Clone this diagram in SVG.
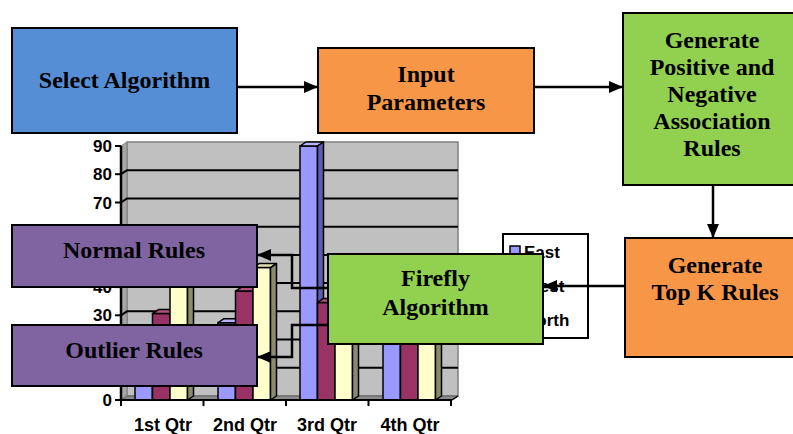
<svg xmlns="http://www.w3.org/2000/svg" width="793" height="434" viewBox="0 0 793 434">
  <defs>
    <style>
      .box { stroke: #000; stroke-width: 2; }
      .lbl { font-family: "Liberation Serif", "Times New Roman", serif; font-weight: bold; font-size: 24px; fill: #000; text-anchor: middle; }
      .ax { font-family: "Liberation Sans", Arial, sans-serif; font-weight: bold; fill: #000; }
      .grid { stroke: #000; stroke-width: 2; fill: none; }
      .bar { stroke: #000; stroke-width: 1.5; stroke-linejoin: round; }
      .east { fill: #9999FF; }
      .east-top { fill: #B3B3FF; }
      .east-side { fill: #5C5CB0; }
      .west { fill: #993366; }
      .west-top { fill: #B3507F; }
      .west-side { fill: #5E1F3F; }
      .north { fill: #FFFFCC; }
      .north-top { fill: #E2E2B4; }
      .north-side { fill: #8A8A6E; }
      .conn { stroke: #000; stroke-width: 2.5; fill: none; }
    </style>
    <marker id="arrow" viewBox="0 0 14 12" refX="14" refY="6" markerWidth="14" markerHeight="12" markerUnits="userSpaceOnUse" orient="auto">
      <path d="M0,0 L14,6 L0,12 z" fill="#000"/>
    </marker>
  </defs>

  <rect width="793" height="434" fill="#fff"/>

  <!-- 3D column chart backdrop -->
  <g id="chart">
    <polygon points="127,142 458,142 458,396 127,396" fill="#C0C0C0" stroke="#808080" stroke-width="1.5"/>
    <polygon points="121,146 127,142 127,396 121,400" fill="#A6A6A6" stroke="#808080" stroke-width="1"/>
    <polygon points="121,400 127,396 458,396 452,400" fill="#8C8C8C" stroke="#606060" stroke-width="1"/>
    <!-- gridlines -->
    <polyline class="grid" points="121,371.8 127,367.8 458,367.8"/>
    <polyline class="grid" points="121,343.6 127,339.6 458,339.6"/>
    <polyline class="grid" points="121,315.3 127,311.3 458,311.3"/>
    <polyline class="grid" points="121,287.1 127,283.1 458,283.1"/>
    <polyline class="grid" points="121,258.9 127,254.9 458,254.9"/>
    <polyline class="grid" points="121,230.7 127,226.7 458,226.7"/>
    <polyline class="grid" points="121,202.5 127,198.5 458,198.5"/>
    <polyline class="grid" points="121,174.2 127,170.2 458,170.2"/>

    <!-- 1st Qtr -->
    <g>
      <rect class="bar east" x="135" y="342.4" width="17.5" height="57.6"/>
      <polygon class="bar east-top" points="135,342.4 141,338.4 158.5,338.4 152.5,342.4"/>
      <polygon class="bar east-side" points="152.5,342.4 158.5,338.4 158.5,396 152.5,400"/>
      <rect class="bar west" x="152.5" y="313.6" width="17.5" height="86.4"/>
      <polygon class="bar west-top" points="152.5,313.6 158.5,309.6 176,309.6 170,313.6"/>
      <polygon class="bar west-side" points="170,313.6 176,309.6 176,396 170,400"/>
      <rect class="bar north" x="170" y="270.5" width="17.5" height="129.5"/>
      <polygon class="bar north-top" points="170,270.5 176,266.5 193.5,266.5 187.5,270.5"/>
      <polygon class="bar north-side" points="187.5,270.5 193.5,266.5 193.5,396 187.5,400"/>
    </g>
    <!-- 2nd Qtr -->
    <g>
      <rect class="bar east" x="218" y="322.7" width="17.5" height="77.3"/>
      <polygon class="bar east-top" points="218,322.7 224,318.7 241.5,318.7 235.5,322.7"/>
      <polygon class="bar east-side" points="235.5,322.7 241.5,318.7 241.5,396 235.5,400"/>
      <rect class="bar west" x="235.5" y="291.1" width="17.5" height="108.9"/>
      <polygon class="bar west-top" points="235.5,291.1 241.5,287.1 259,287.1 253,291.1"/>
      <polygon class="bar west-side" points="253,291.1 259,287.1 259,396 253,400"/>
      <rect class="bar north" x="253" y="267.6" width="17.5" height="132.4"/>
      <polygon class="bar north-top" points="253,267.6 259,263.6 276.5,263.6 270.5,267.6"/>
      <polygon class="bar north-side" points="270.5,267.6 276.5,263.6 276.5,396 270.5,400"/>
    </g>
    <!-- 3rd Qtr -->
    <g>
      <rect class="bar east" x="300" y="146" width="17.5" height="254"/>
      <polygon class="bar east-top" points="300,146 306,142 323.5,142 317.5,146"/>
      <polygon class="bar east-side" points="317.5,146 323.5,142 323.5,396 317.5,400"/>
      <rect class="bar west" x="317.5" y="302.4" width="17.5" height="97.6"/>
      <polygon class="bar west-top" points="317.5,302.4 323.5,298.4 341,298.4 335,302.4"/>
      <polygon class="bar west-side" points="335,302.4 341,298.4 341,396 335,400"/>
      <rect class="bar north" x="335" y="273" width="17.5" height="127"/>
      <polygon class="bar north-top" points="335,273 341,269 358.5,269 352.5,273"/>
      <polygon class="bar north-side" points="352.5,273 358.5,269 358.5,396 352.5,400"/>
    </g>
    <!-- 4th Qtr -->
    <g>
      <rect class="bar east" x="383" y="342.4" width="17.5" height="57.6"/>
      <polygon class="bar east-top" points="383,342.4 389,338.4 406.5,338.4 400.5,342.4"/>
      <polygon class="bar east-side" points="400.5,342.4 406.5,338.4 406.5,396 400.5,400"/>
      <rect class="bar west" x="400.5" y="310.8" width="17.5" height="89.2"/>
      <polygon class="bar west-top" points="400.5,310.8 406.5,306.8 424,306.8 418,310.8"/>
      <polygon class="bar west-side" points="418,310.8 424,306.8 424,396 418,400"/>
      <rect class="bar north" x="418" y="276.1" width="17.5" height="123.9"/>
      <polygon class="bar north-top" points="418,276.1 424,272.1 441.5,272.1 435.5,276.1"/>
      <polygon class="bar north-side" points="435.5,276.1 441.5,272.1 441.5,396 435.5,400"/>
    </g>

    <!-- axes -->
    <line x1="121" y1="146" x2="121" y2="401" stroke="#000" stroke-width="2.5"/>
    <line x1="120" y1="400" x2="452" y2="400" stroke="#000" stroke-width="2"/>
    <line x1="452" y1="400" x2="458" y2="396" stroke="#000" stroke-width="1.5"/>
    <g stroke="#000" stroke-width="2">
      <line x1="115" y1="400" x2="121" y2="400"/>
      <line x1="115" y1="371.8" x2="121" y2="371.8"/>
      <line x1="115" y1="343.6" x2="121" y2="343.6"/>
      <line x1="115" y1="315.3" x2="121" y2="315.3"/>
      <line x1="115" y1="287.1" x2="121" y2="287.1"/>
      <line x1="115" y1="258.9" x2="121" y2="258.9"/>
      <line x1="115" y1="230.7" x2="121" y2="230.7"/>
      <line x1="115" y1="202.5" x2="121" y2="202.5"/>
      <line x1="115" y1="174.2" x2="121" y2="174.2"/>
      <line x1="115" y1="146" x2="121" y2="146"/>
      <line x1="121" y1="400" x2="121" y2="406"/>
      <line x1="203.5" y1="400" x2="203.5" y2="406"/>
      <line x1="286" y1="400" x2="286" y2="406"/>
      <line x1="368.5" y1="400" x2="368.5" y2="406"/>
      <line x1="451" y1="400" x2="451" y2="406"/>
    </g>
    <!-- value labels not covered by the rule boxes -->
    <g class="ax" font-size="17" text-anchor="end">
      <text x="112" y="406">0</text>
      <text x="112" y="321.3">30</text>
      <text x="112" y="293.1">40</text>
      <text x="112" y="208.5">70</text>
      <text x="112" y="180.2">80</text>
      <text x="112" y="152">90</text>
    </g>
    <g class="ax" font-size="18" text-anchor="middle">
      <text x="163" y="431">1st Qtr</text>
      <text x="245" y="431">2nd Qtr</text>
      <text x="327" y="431">3rd Qtr</text>
      <text x="410" y="431">4th Qtr</text>
    </g>
  </g>

  <!-- chart legend -->
  <g id="legend">
    <rect x="503" y="234" width="85" height="104" fill="#fff" stroke="#000" stroke-width="2"/>
    <rect x="510" y="246" width="10" height="10" class="east" stroke="#000" stroke-width="1.5"/>
    <rect x="510" y="280" width="10" height="10" class="west" stroke="#000" stroke-width="1.5"/>
    <rect x="510" y="314" width="10" height="10" class="north" stroke="#000" stroke-width="1.5"/>
    <g class="ax" font-size="17">
      <text x="524" y="258">East</text>
      <text x="524" y="292">West</text>
      <text x="524" y="326">North</text>
    </g>
  </g>

  <!-- process nodes -->
  <g id="select-algorithm">
    <rect class="box" x="12" y="28" width="225" height="105" fill="#558ED5"/>
    <text class="lbl" x="124.5" y="88">Select Algorithm</text>
  </g>
  <g id="input-parameters">
    <rect class="box" x="318" y="48" width="216" height="85" fill="#F79646"/>
    <text class="lbl" x="426" y="82">Input</text>
    <text class="lbl" x="426" y="110">Parameters</text>
  </g>
  <g id="generate-rules">
    <rect class="box" x="623" y="13" width="176" height="172" fill="#92D050"/>
    <text class="lbl" x="712" y="48">Generate</text>
    <text class="lbl" x="712" y="75">Positive and</text>
    <text class="lbl" x="712" y="102">Negative</text>
    <text class="lbl" x="712" y="129">Association</text>
    <text class="lbl" x="712" y="156">Rules</text>
  </g>
  <g id="top-k-rules">
    <rect class="box" x="625" y="238" width="174" height="119" fill="#F79646"/>
    <text class="lbl" x="715" y="273">Generate</text>
    <text class="lbl" x="715" y="300">Top K Rules</text>
  </g>
  <g id="firefly">
    <rect class="box" x="328" y="254" width="215" height="90" fill="#92D050"/>
    <text class="lbl" x="435.5" y="286">Firefly</text>
    <text class="lbl" x="435.5" y="315">Algorithm</text>
  </g>
  <g id="normal-rules">
    <rect class="box" x="12" y="225" width="245" height="62" fill="#8064A2"/>
    <text class="lbl" x="134" y="258">Normal Rules</text>
  </g>
  <g id="outlier-rules">
    <rect class="box" x="12" y="325" width="245" height="61" fill="#8064A2"/>
    <text class="lbl" x="134" y="358">Outlier Rules</text>
  </g>

  <!-- connectors -->
  <g id="connectors" class="conn">
    <path d="M237,87 H318" marker-end="url(#arrow)"/>
    <path d="M534,87 H623" marker-end="url(#arrow)"/>
    <path d="M713,185 V238" marker-end="url(#arrow)"/>
    <path d="M625,286 H543" marker-end="url(#arrow)"/>
    <path d="M328,288 H292 V255 H257" marker-end="url(#arrow)"/>
    <path d="M328,325 H292 V357 H257" marker-end="url(#arrow)"/>
  </g>
</svg>
